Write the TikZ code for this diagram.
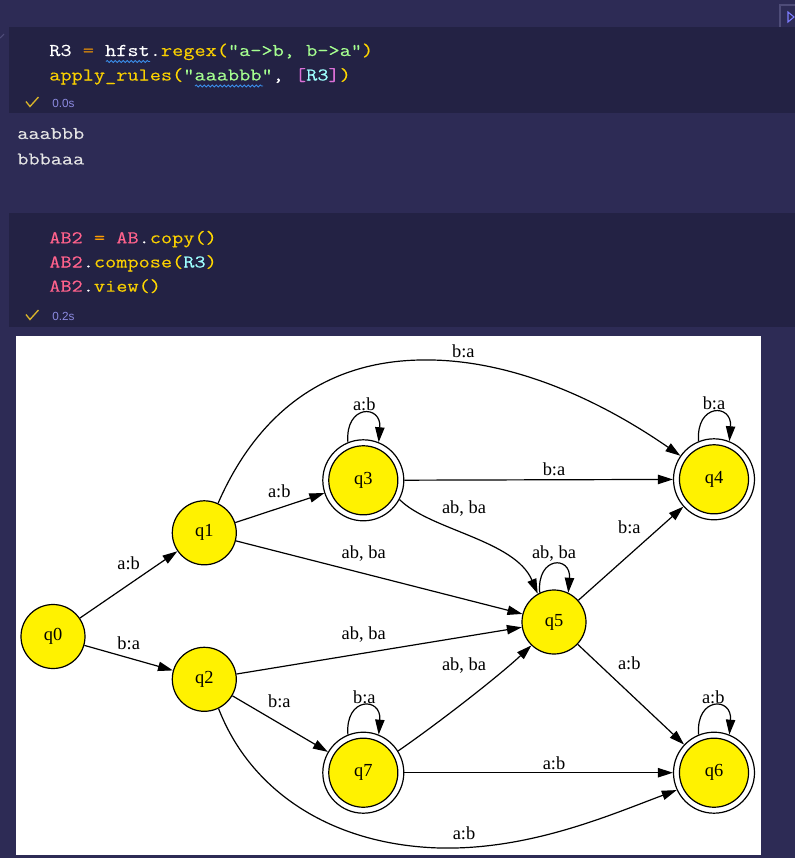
\documentclass[tikz,border=0pt]{standalone}
\usepackage{fontspec}
\setmainfont{Liberation Serif}
\setmonofont{Latin Modern Mono}[FakeStretch=1.205,FakeBold=0.2]
\newfontfamily\uifont{Liberation Sans}
\usetikzlibrary{arrows.meta,decorations.pathmorphing}
\definecolor{pagebg}{HTML}{2D2B55}
\definecolor{cellbg}{HTML}{232244}
\definecolor{cwhite}{HTML}{FFFFFF}
\definecolor{corange}{HTML}{FF9D00}
\definecolor{cyellow}{HTML}{FAD000}
\definecolor{cgold}{HTML}{FFD700}
\definecolor{cgreen}{HTML}{A5FF90}
\definecolor{corchid}{HTML}{DA70D6}
\definecolor{ccyan}{HTML}{9EFFFF}
\definecolor{cpink}{HTML}{FF628C}
\definecolor{cout}{HTML}{E4E4E4}
\definecolor{ctime}{HTML}{8C8AE0}
\definecolor{ccheck}{HTML}{D9B42A}
\definecolor{csquig}{HTML}{3B8EEA}
\definecolor{cbtn}{HTML}{4E4C78}
\definecolor{cglyph}{HTML}{7C7CFF}
\newcommand{\glabel}{\fontsize{13.8}{16}\selectfont}
\newcommand{\codefont}{\ttfamily\fontsize{13.5}{16}\selectfont}
\begin{document}
\begin{tikzpicture}[x=0.75pt,y=-0.75pt,
  st/.style={circle, draw, line width=0.9pt, fill=yellow, minimum size=48pt, inner sep=0pt, font=\glabel},
  acc/.style={circle, draw, line width=0.9pt, fill=white, minimum size=60.75pt, inner sep=0pt, font=\glabel,
    path picture={\fill[yellow] (path picture bounding box.center) circle[radius=25.9pt];
                  \draw[line width=0.9pt] (path picture bounding box.center) circle[radius=25.9pt];}},
  arr/.style={draw, line width=0.9pt, -{Triangle[length=11.2pt,width=7pt]}},
  lbl/.style={font=\glabel, inner sep=0pt, anchor=base},
  code/.style={font=\codefont, inner sep=0pt, anchor=base west},
  outtxt/.style={font=\codefont, text=cout, inner sep=0pt, anchor=base west},
  tm/.style={font=\uifont\fontsize{8.8}{10}\selectfont, text=ctime, inner sep=0pt, anchor=base west},
  squig/.style={draw=csquig, line width=0.6pt, decorate, decoration={snake, amplitude=0.8pt, segment length=3pt}},
  chk/.style={draw=ccheck, line width=1pt}
]
\useasboundingbox (0,0) rectangle (795,858);
\fill[pagebg] (0,0) rectangle (795,858);
% top-right button and small mark
\draw[cbtn, line width=0.8pt] (780,5) rectangle (800,33);
\draw[cglyph, line width=0.8pt] (788,12) -- (794,17) -- (788,22) -- cycle;
\draw[cbtn, line width=0.8pt] (0,38) -- (4,34);
% cell 1
\fill[cellbg] (9,27) rectangle (795,113);
\node[code] (c1a) at (49,56) {\textcolor{cwhite}{R3} \textcolor{corange}{=} \textcolor{cwhite}{hfst.}\textcolor{cyellow}{regex}\textcolor{cgold}{(}\textcolor{cgreen}{"a->b, b->a"}\textcolor{cgold}{)}};
\node[code] (c1b) at (49,80.5) {\textcolor{cyellow}{apply\_rules}\textcolor{cgold}{(}\textcolor{cgreen}{"aaabbb"}\textcolor{cwhite}{, }\textcolor{corchid}{[}\textcolor{ccyan}{R3}\textcolor{corchid}{]}\textcolor{cgold}{)}};
\draw[squig] (106,61.5) -- (150,61.5);
\draw[squig] (195,86) -- (263,86);
\draw[chk] (26,101.5) -- (30,106.5) -- (38.5,97);
\node[tm] (t1) at (52,107) {0.0s};
\node[outtxt] (o1) at (17,139) {aaabbb};
\node[outtxt] (o2) at (17,164.5) {bbbaaa};
% cell 2
\fill[cellbg] (9,213) rectangle (795,327);
\node[code] (c2a) at (49,243.3) {\textcolor{cpink}{AB2} \textcolor{corange}{=} \textcolor{cpink}{AB}\textcolor{cwhite}{.}\textcolor{cyellow}{copy}\textcolor{cgold}{()}};
\node[code] (c2b) at (49,267.5) {\textcolor{cpink}{AB2}\textcolor{cwhite}{.}\textcolor{cyellow}{compose}\textcolor{cgold}{(}\textcolor{ccyan}{R3}\textcolor{cgold}{)}};
\node[code] (c2c) at (49,291.7) {\textcolor{cpink}{AB2}\textcolor{cwhite}{.}\textcolor{cyellow}{view}\textcolor{cgold}{()}};
\draw[chk] (26,314.5) -- (30,319.5) -- (38.5,310);
\node[tm] (t2) at (52,320) {0.2s};
% graph area
\fill[white] (16,336) rectangle (761,855);
\node[st] (q0) at (53,636.5) {q0};
\node[st] (q1) at (204.3,532.8) {q1};
\node[st] (q2) at (204.3,679.3) {q2};
\node[acc] (q3) at (363.3,480.3) {q3};
\node[acc] (q4) at (714,479.3) {q4};
\node[st] (q5) at (554,622) {q5};
\node[acc] (q6) at (714,772.7) {q6};
\node[acc] (q7) at (363.3,772.7) {q7};
% edges
\path[arr] (q0) -- (q1);
\path[arr] (q0) -- (q2);
\path[arr] (q1) -- (q3);
\path[arr] (q1) -- (q5);
\path[arr] (q1.65) .. controls (250,430) and (310,362) .. (420,360) .. controls (510,358) and (600,400) .. (q4.145);
\path[arr] (q3) -- (q4);
\path[arr] (q3.-28) .. controls (430,530) and (515,540) .. (q5.120);
\path[arr] (q5) -- (q4);
\path[arr] (q2) -- (q5);
\path[arr] (q2) -- (q7);
\path[arr] (q2.-64) .. controls (250,790) and (330,845) .. (440,848) .. controls (530,850) and (610,815) .. (q6.205);
\path[arr] (q7.32) .. controls (440,722) and (500,675) .. (q5.226);
\path[arr] (q7) -- (q6);
\path[arr] (q5) -- (q6);
% self loops
\path[arr] (q3.112) .. controls +(-3,-38) and +(3,-38) .. (q3.68);
\path[arr] (q4.112) .. controls +(-3,-38) and +(3,-38) .. (q4.68);
\path[arr] (q5.116) .. controls +(-3,-37) and +(3,-37) .. (q5.64);
\path[arr] (q6.112) .. controls +(-3,-38) and +(3,-38) .. (q6.68);
\path[arr] (q7.112) .. controls +(-3,-38) and +(3,-38) .. (q7.68);
% labels
\node[lbl] (l01) at (128.7,569) {a:b};
\node[lbl] (l02) at (128.7,649) {b:a};
\node[lbl] (l13) at (279.3,497.3) {a:b};
\node[lbl] (l14) at (463.3,357.3) {b:a};
\node[lbl] (l15) at (363.7,558.5) {ab, ba};
\node[lbl] (l33) at (364.3,410) {a:b};
\node[lbl] (l44) at (714,409) {b:a};
\node[lbl] (l34) at (554,475.6) {b:a};
\node[lbl] (l35) at (464,513) {ab, ba};
\node[lbl] (l55) at (554,558.5) {ab, ba};
\node[lbl] (l54) at (629.3,533.3) {b:a};
\node[lbl] (l25) at (363.7,639.5) {ab, ba};
\node[lbl] (l27) at (279.3,707.3) {b:a};
\node[lbl] (l77) at (364.3,703) {b:a};
\node[lbl] (l75) at (464,670.5) {ab, ba};
\node[lbl] (l56) at (629.3,669.6) {a:b};
\node[lbl] (l66) at (713.3,703) {a:b};
\node[lbl] (l76) at (554,769) {a:b};
\node[lbl] (l26) at (464,839) {a:b};
\end{tikzpicture}
\end{document}
